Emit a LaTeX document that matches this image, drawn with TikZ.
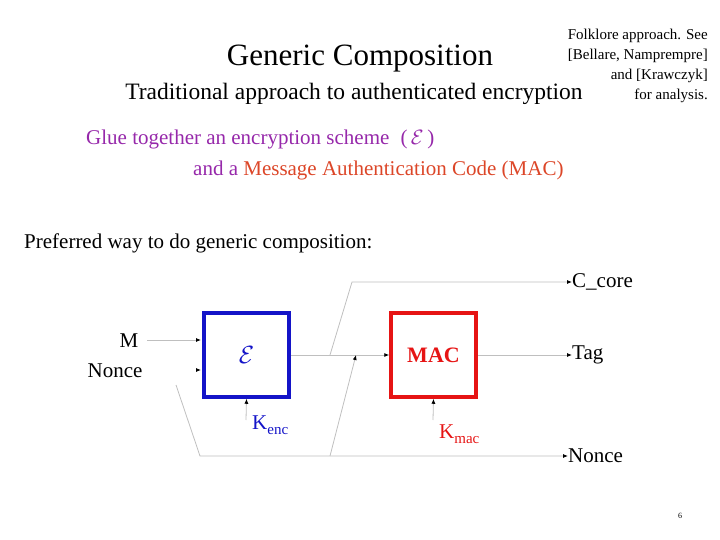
\documentclass[tikz,border=0pt]{standalone}
\usepackage{fontspec}
\setmainfont{Liberation Serif}
\usetikzlibrary{arrows.meta}
\definecolor{eblue}{RGB}{20,20,200}
\definecolor{mred}{RGB}{230,20,20}
\definecolor{glue}{RGB}{150,40,170}
\definecolor{mac}{RGB}{220,70,40}
\begin{document}
\begin{tikzpicture}[x=1pt,y=-1pt,
  wire/.style={draw=black!25,line width=0.8pt},
  arr/.style={wire,-{Latex[length=5pt,width=4pt,color=black]}},
  lab/.style={font=\fontsize{21}{24}\selectfont,inner sep=0pt}]
\useasboundingbox (0,0) rectangle (720,540);
\node[font=\fontsize{31}{34}\selectfont,anchor=base] (title) at (360,66) {Generic Composition};
\node[font=\fontsize{23.5}{26}\selectfont,anchor=base] (sub) at (354,100) {Traditional approach to authenticated encryption};
\node[font=\fontsize{15}{20}\selectfont,align=right,anchor=north east,inner sep=0pt] (note) at (708,29) {Folklore approach. See\\ {[Bellare, Namprempre]}\\ and [Krawczyk]\\ for analysis.};
\node[lab,anchor=base west,text=glue] (g1) at (86,145) {Glue together an encryption scheme \;(\,$\mathcal{E}$\,)};
\node[lab,anchor=base west] (g2) at (193,176) {\textcolor{glue}{and a }\textcolor{mac}{Message Authentication Code (MAC)}};
\node[lab,anchor=base west] (pref) at (24,248) {Preferred way to do generic composition:};
\node[draw=eblue,line width=3.5pt,minimum width=85pt,minimum height=84pt] (E) at (246.5,355) {\textcolor{eblue}{\fontsize{28}{30}\selectfont$\mathcal{E}$}};
\node[draw=mred,line width=3.5pt,minimum width=85pt,minimum height=84pt,font=\bfseries\fontsize{22}{24}\selectfont,text=mred] (M) at (433.5,355) {MAC};
\node[lab,anchor=base] (m) at (129,347) {M};
\node[lab,anchor=base] (n) at (115,377) {Nonce};
\node[lab,anchor=west] (cc) at (572,282) {C\_core};
\node[lab,anchor=west] (tag) at (572,355) {Tag};
\node[lab,anchor=west] (no) at (568,456) {Nonce};
\node[lab,anchor=base west,text=eblue] (ke) at (252,429) {K\raisebox{-5pt}{\fontsize{15}{16}\selectfont enc}};
\node[lab,anchor=base west,text=mred] (km) at (439,438) {K\raisebox{-5pt}{\fontsize{15}{16}\selectfont mac}};
\coordinate (e1) at (201,340);
\coordinate (e2) at (201,370);
\coordinate (ns) at (176,385);
\coordinate (nb) at (200,456);
\coordinate (b1) at (330,456);
\coordinate (c1) at (330,355);
\coordinate (c2) at (352,282);
\coordinate (mi) at (356,355);
\draw[arr] (147,340) -- (e1);
\draw[arr] (e2) ++(-4,0) -- (e2);
\draw[arr] (E.east) -- (M.west);
\draw[arr] (c1) -- (c2) -- (cc.west);
\draw[arr] (M.east) -- (tag.west);
\draw[arr] (ns) -- (nb) -- (no.west);
\draw[arr] (b1) -- (mi);
\draw[arr] (246,420) -- (E.south);
\draw[arr] (433,420) -- (M.south);
\node[font=\footnotesize] (pg) at (680,516) {6};
\end{tikzpicture}
\end{document}
